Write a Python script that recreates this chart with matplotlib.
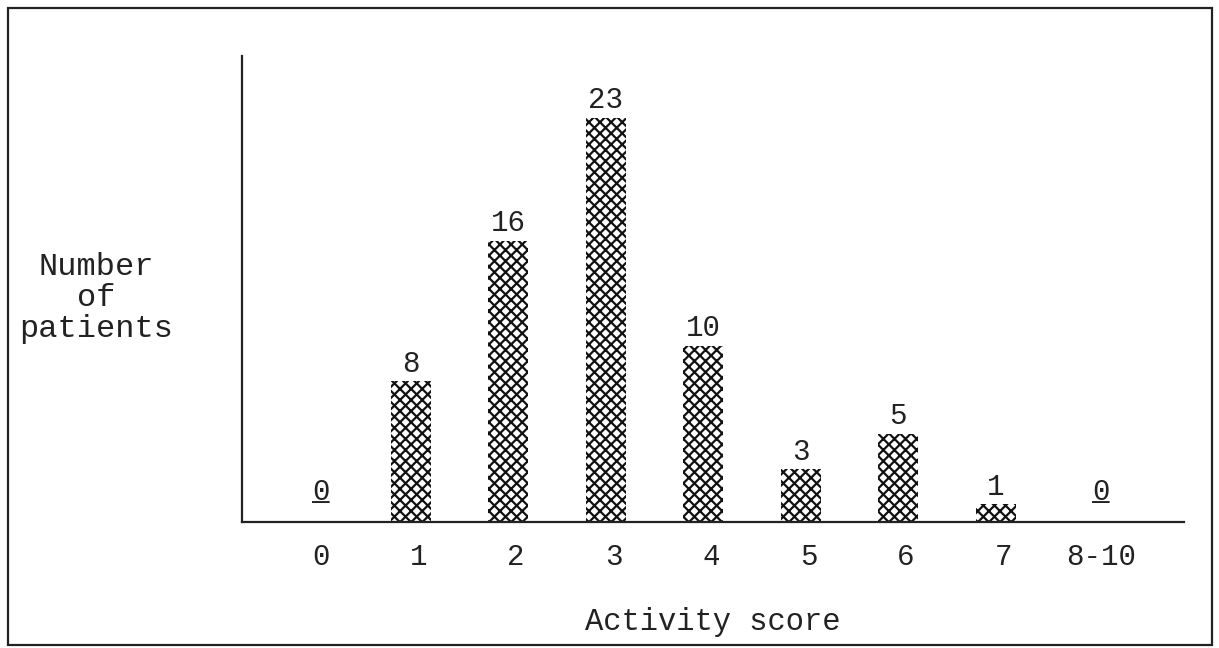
import matplotlib
matplotlib.use("Agg")
import matplotlib.pyplot as plt
import numpy as np

scores = ['0', '1', '2', '3', '4', '5', '6', '7', '8-10']
patients = [0, 8, 16, 23, 10, 3, 5, 1, 0]

plt.rcParams['font.family'] = ['Liberation Mono', 'DejaVu Sans Mono']
plt.rcParams['hatch.linewidth'] = 1.6

x = np.arange(len(scores))
ink = '#222222'

fig = plt.figure(figsize=(12.19, 6.48), dpi=100)
ax = fig.add_axes([0.1985, 0.1944, 0.7728, 0.7192])

# checkered fill: dense dark cross-hatch on white
bars = ax.bar(x - 0.08, patients, 0.41, facecolor='white', edgecolor='#111111',
              linewidth=0, hatch='xxx')

for i, (rect, v) in enumerate(zip(bars, patients)):
    cx = rect.get_x() + rect.get_width() / 2
    if v == 0:
        # zero counts are printed underlined at the category position
        for s in ('0', '_'):
            ax.annotate(s, xy=(x[i], v), xytext=(0, 16), textcoords='offset points',
                        ha='center', va='baseline', fontsize=21, color=ink)
    else:
        ax.annotate(str(v), xy=(cx, v), xytext=(0, 7), textcoords='offset points',
                    ha='center', va='baseline', fontsize=21, color=ink)

ax.set_xlim(-0.81, 8.85)
ax.set_ylim(0, 26.5)
ax.set_xticks(x)
ax.set_xticklabels(scores, fontsize=21, color=ink)
ax.set_yticks([])
ax.tick_params(axis='x', length=0, pad=15)
for s in ['top', 'right']:
    ax.spines[s].set_visible(False)
for s in ['left', 'bottom']:
    ax.spines[s].set_linewidth(1.6)
    ax.spines[s].set_color(ink)

ax.set_xlabel('Activity score', fontsize=22, color=ink, labelpad=26)
fig.text(0.079, 0.540, 'Number\nof\npatients', ha='center', va='center',
         fontsize=23, color=ink, linespacing=1.05)

border = plt.Rectangle((0.0066, 0.005), 0.9877, 0.9827, transform=fig.transFigure,
                       fill=False, edgecolor=ink, linewidth=1.6)
fig.patches.append(border)

fig.savefig('out.png', dpi=100)
